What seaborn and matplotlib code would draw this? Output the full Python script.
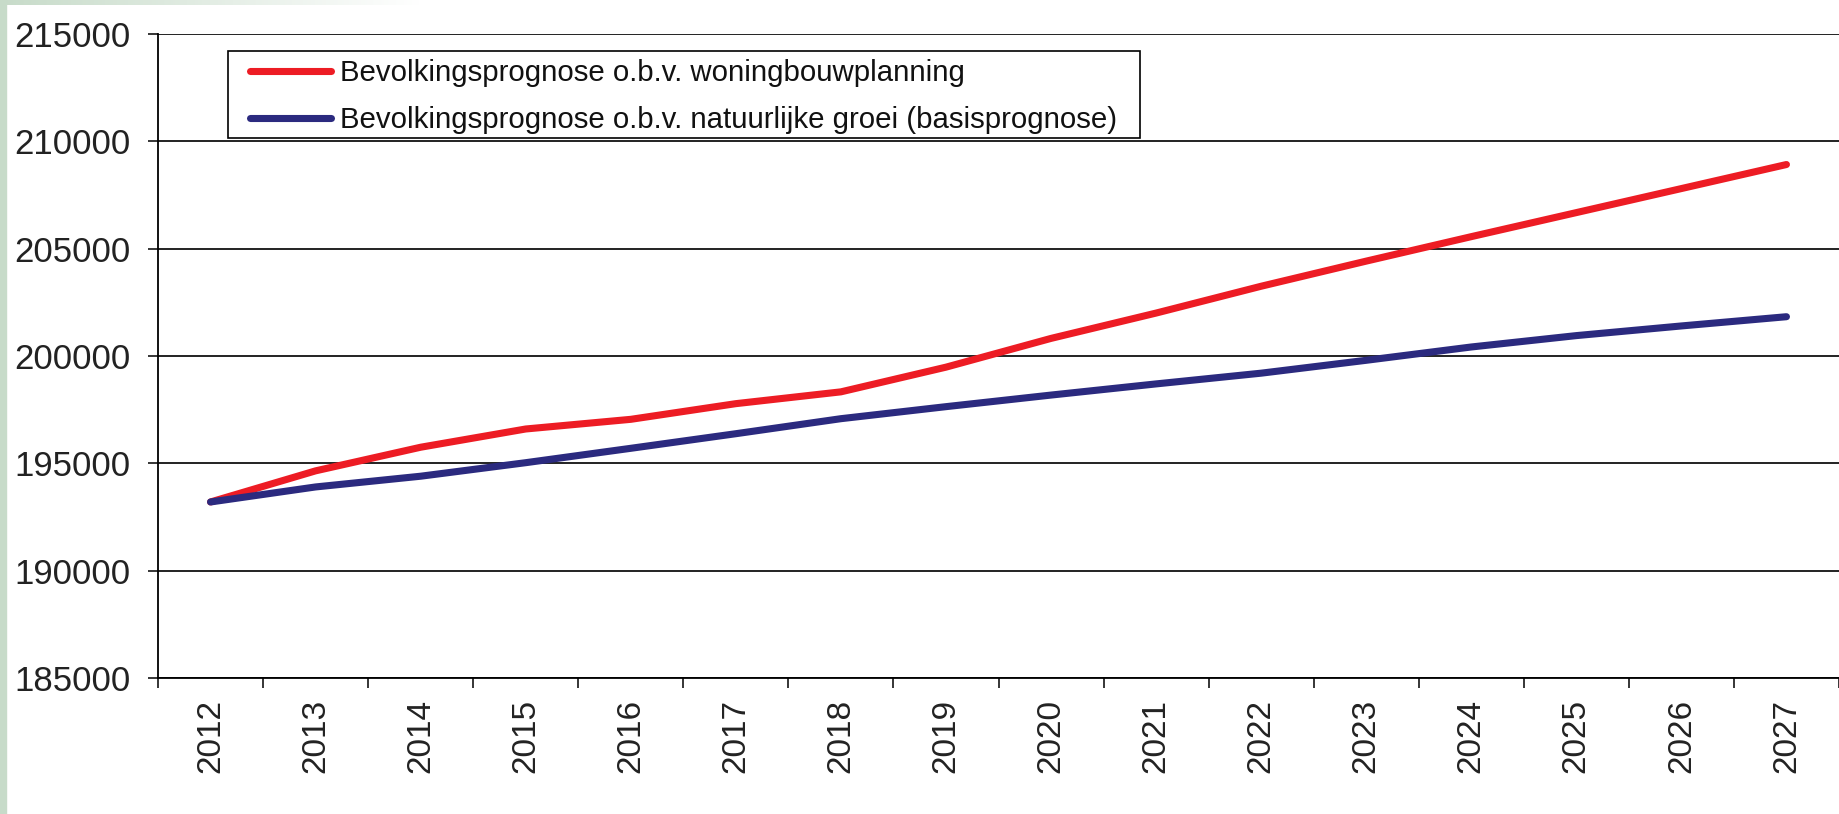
import numpy as np
import pandas as pd
import seaborn as sns
import matplotlib.pyplot as plt
from matplotlib.patches import Rectangle

# Data
years = [str(y) for y in range(2012, 2028)]
woningbouw = [193200, 194650, 195750, 196600, 197050, 197780, 198330, 199480,
              200820, 202000, 203250, 204420, 205560, 206680, 207800, 208920]
natuurlijk = [193200, 193900, 194400, 195030, 195700, 196380, 197080, 197640,
              198180, 198700, 199200, 199800, 200420, 200950, 201400, 201830]
labels = ['Bevolkingsprognose o.b.v. woningbouwplanning',
          'Bevolkingsprognose o.b.v. natuurlijke groei (basisprognose)']
y_ticks = [185000, 190000, 195000, 200000, 205000, 210000, 215000]

df = pd.DataFrame({
    'Jaar': years * 2,
    'Inwoners': woningbouw + natuurlijk,
    'Prognose': [labels[0]] * len(years) + [labels[1]] * len(years),
})

sns.set_theme(style='white')
plt.rcParams['font.family'] = ['Liberation Sans', 'DejaVu Sans']

W, H = 1839, 814
fig = plt.figure(figsize=(W / 100, H / 100), dpi=100)
ax = fig.add_axes([158 / W, 1 - 678 / H, (W - 158) / W, (678 - 34) / H])

palette = {labels[0]: '#ed1c24', labels[1]: '#2b2a7f'}
sns.lineplot(data=df, x='Jaar', y='Inwoners', hue='Prognose', palette=palette,
             linewidth=5.1, sort=False, ax=ax, solid_capstyle='round')

# axes limits, bounds of categories
ax.set_xlim(-0.5, 15.5 - 4 / 105.3)
ax.set_ylim(185000, 215000)
ax.set_xlabel('')
ax.set_ylabel('')

# y axis
ax.set_yticks(y_ticks)
ax.set_yticklabels([str(v) for v in y_ticks])
ax.yaxis.grid(True, color='#111111', linewidth=1.3)
ax.tick_params(axis='y', direction='out', length=7.5, width=1.1, color='black',
               pad=12, labelsize=25, labelcolor='#222222', left=True)

# x axis: tick marks between categories, labels at centres
ax.set_xticks(np.arange(-0.5, 16, 1.0))
ax.set_xticklabels([])
ax.set_xticks(np.arange(len(years)), minor=True)
ax.set_xticklabels(years, minor=True, rotation=90)
ax.tick_params(axis='x', which='major', direction='out', length=7.5, width=1.1,
               color='black', bottom=True)
ax.tick_params(axis='x', which='minor', length=0, pad=15, labelsize=24,
               labelcolor='#222222')
ax.xaxis.grid(False)

for side in ['top', 'right']:
    ax.spines[side].set_visible(False)
for side in ['left', 'bottom']:
    ax.spines[side].set_color('black')
    ax.spines[side].set_linewidth(1.3)

# legend: frame drawn separately so the inner margins can match
leg = ax.legend(loc='upper left', bbox_to_anchor=(250 / W, 1 - 59 / H),
                bbox_transform=fig.transFigure, frameon=False,
                fontsize=21.2, handlelength=2.75, handletextpad=0.3,
                borderpad=0, labelspacing=0.66, borderaxespad=0)
for t in leg.get_texts():
    t.set_color('#111111')
ax.add_artist(Rectangle((228 / W, 1 - 138 / H), (1140 - 228) / W, 87 / H,
                        transform=fig.transFigure, facecolor='white',
                        edgecolor='black', linewidth=1.2, zorder=4))
leg.set_zorder(5)

# page decoration: pale green strip on the left and faded strip on top
fig.patches.append(Rectangle((0, 0), 6 / W, 1, transform=fig.transFigure,
                             color='#c7dbc9', zorder=0))
grad = fig.add_axes([0, 1 - 5 / H, 420 / W, 5 / H])
grad.imshow(np.linspace(0, 1, 256)[None, :], aspect='auto',
            cmap=sns.blend_palette(['#c7dbc9', '#ffffff'], as_cmap=True))
grad.axis('off')

fig.savefig('out.png', dpi=100)
